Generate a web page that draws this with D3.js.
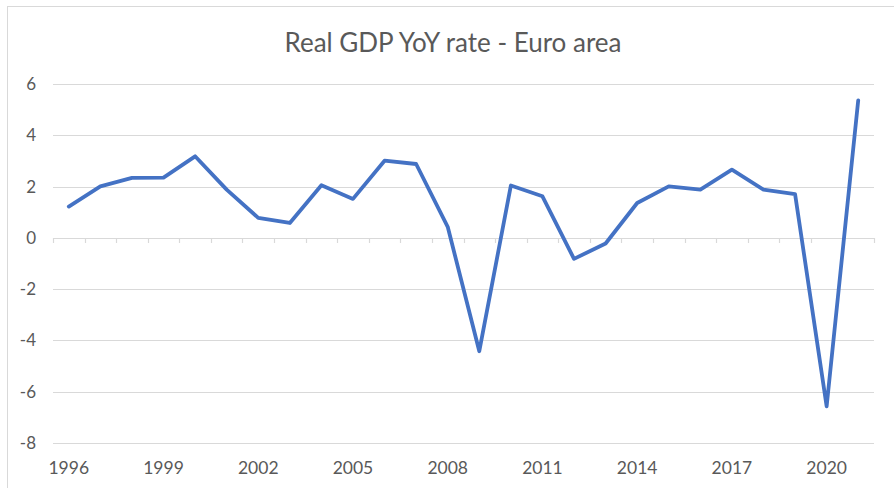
<!DOCTYPE html>
<html>
<head>
<meta charset="utf-8">
<script src="https://cdn.jsdelivr.net/npm/d3@7"></script>
<style>
  body { margin: 0; background: #fff; }
  svg text { font-family: Lato, "Open Sans", sans-serif; fill: #595959; }
</style>
</head>
<body>
<svg id="chart" width="894" height="488"></svg>
<script>
(function () {
      'use strict';

      var years = ['1996','1997','1998','1999','2000','2001','2002','2003','2004','2005','2006','2007','2008',
                   '2009','2010','2011','2012','2013','2014','2015','2016','2017','2018','2019','2020','2021'];
      var gdpRate = [1.22, 2.01, 2.34, 2.35, 3.18, 1.88, 0.78, 0.58, 2.05, 1.52, 3.01, 2.88, 0.43,
                     -4.42, 2.04, 1.62, -0.82, -0.22, 1.36, 2.01, 1.88, 2.66, 1.88, 1.71, -6.57, 5.36];
      var yTicks = [-8, -6, -4, -2, 0, 2, 4, 6];
      var xLabels = ['1996','1999','2002','2005','2008','2011','2014','2017','2020'];

      var svg = d3.select('#chart');
      var left = 53, right = 874, top = 84, bottom = 443;

      // chart frame
      svg.append('rect')
            .attr('x', 7.5).attr('y', 6.5)
            .attr('width', 900).attr('height', 500)
            .attr('fill', 'none')
            .attr('stroke', '#d9d9d9');

      svg.append('text')
            .attr('x', 453).attr('y', 52)
            .attr('text-anchor', 'middle')
            .style('font-size', '26px')
            .text('Real GDP YoY rate - Euro area');

      var x = d3.scaleBand().domain(years).range([left, right]);
      var y = d3.scaleLinear().domain([-8, 6]).range([bottom, top]);

      svg.append('g').selectAll('line')
            .data(yTicks)
            .enter().append('line')
            .attr('x1', left).attr('x2', right)
            .attr('y1', function(d) { return Math.round(y(d)) + 0.5; })
            .attr('y2', function(d) { return Math.round(y(d)) + 0.5; })
            .attr('stroke', '#d9d9d9')
            .attr('stroke-width', 1.2);

      svg.append('g').selectAll('text')
            .data(yTicks)
            .enter().append('text')
            .attr('x', 36)
            .attr('y', function(d) { return y(d); })
            .attr('dy', '0.35em')
            .attr('text-anchor', 'end')
            .style('font-size', '17px')
            .text(function(d) { return d; });

      // category ticks along the zero line
      var bounds = years.map(function(d) { return x(d); }).concat([right]);
      svg.append('g').selectAll('line')
            .data(bounds)
            .enter().append('line')
            .attr('x1', function(d) { return Math.round(d) + 0.5; })
            .attr('x2', function(d) { return Math.round(d) + 0.5; })
            .attr('y1', Math.round(y(0)))
            .attr('y2', Math.round(y(0)) + 5)
            .attr('stroke', '#d9d9d9')
            .attr('stroke-width', 1.2);

      svg.append('g').selectAll('text')
            .data(xLabels)
            .enter().append('text')
            .attr('x', function(d) { return x(d) + x.bandwidth() / 2; })
            .attr('y', 468)
            .attr('dy', '0.35em')
            .attr('text-anchor', 'middle')
            .style('font-size', '17.5px')
            .text(function(d) { return d; });

      var line = d3.line()
            .x(function(d, i) { return x(years[i]) + x.bandwidth() / 2; })
            .y(function(d) { return y(d); });

      svg.append('path')
            .datum(gdpRate)
            .attr('d', line)
            .attr('fill', 'none')
            .attr('stroke', '#4472c4')
            .attr('stroke-width', 3.8)
            .attr('stroke-linejoin', 'round')
            .attr('stroke-linecap', 'round');
})();
</script>
</body>
</html>
